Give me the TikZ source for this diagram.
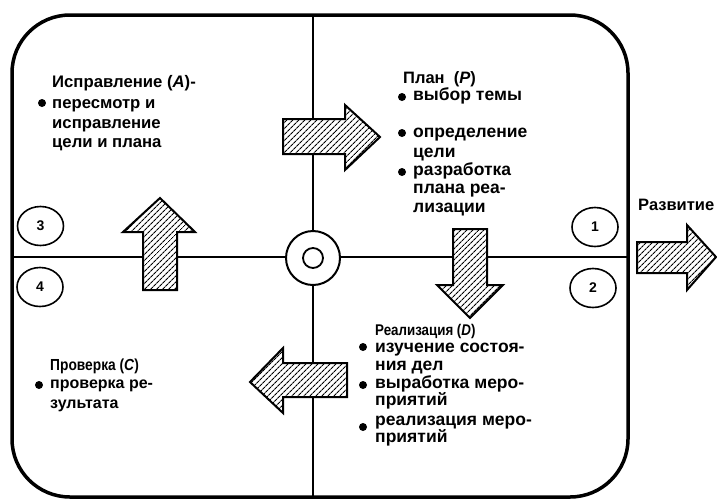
\documentclass[tikz,border=0pt]{standalone}
\usepackage{fontspec}
\setmainfont{Liberation Sans}
\newfontfamily\narrowfont[FakeStretch=0.86]{Liberation Sans}
\usetikzlibrary{shapes.geometric,patterns.meta}
\tikzset{
  txt/.style={anchor=base west,inner sep=0pt,font=\fontsize{#1}{#1}\selectfont\bfseries},
  txt/.default=16,
  head/.style={anchor=base west,inner sep=0pt,font=\narrowfont\fontsize{#1}{#1}\selectfont\bfseries},
  bul/.style={circle,fill=black,inner sep=0pt,minimum size=8pt},
  num/.style={ellipse,draw,line width=1.6pt,minimum width=46pt,minimum height=39pt,inner sep=0pt,font=\fontsize{14}{16}\selectfont\bfseries},
  bigarrow/.style={draw,line width=2pt,line join=miter,preaction={fill=white},pattern={Lines[angle=45,distance=4pt,line width=1.1pt]}},
  frame/.style={line width=3.5pt},
  cross/.style={line width=2.8pt}
}
\begin{document}
\begin{tikzpicture}[x=1pt,y=-1pt]
\useasboundingbox (0,0) rectangle (717,499);
% cross lines
\draw[cross] (313,15) -- (313,497);
\draw[cross] (12,257) -- (628,257);
% frame
\draw[frame,rounded corners=58pt] (12,15) rectangle (628,497);
% centre
\node[circle,draw,fill=white,line width=2pt,minimum size=54pt,inner sep=0pt] (c) at (313,258) {};
\node[circle,draw,line width=1.8pt,minimum size=20pt,inner sep=0pt] (ci) at (313,258) {};
% numbered ellipses
\node[num] (n1) at (595,227) {1};
\node[num] (n2) at (593,288) {2};
\node[num] (n3) at (40.5,226) {3};
\node[num] (n4) at (40,287) {4};
% big hatched arrows
\draw[bigarrow] (283,119) -- (345,119) -- (345,105) -- (380,137) -- (345,170) -- (345,154) -- (283,154) -- cycle;
\draw[bigarrow] (143,290) -- (143,232) -- (123,232) -- (160,198) -- (195,232) -- (177,232) -- (177,290) -- cycle;
\draw[bigarrow] (453,229) -- (487,229) -- (487,285) -- (503,285) -- (470,318) -- (437,285) -- (453,285) -- cycle;
\draw[bigarrow] (347,363) -- (283,363) -- (283,348) -- (250,382) -- (283,413) -- (283,397) -- (347,397) -- cycle;
\draw[bigarrow] (637,242) -- (687,242) -- (687,225) -- (716,257) -- (687,290) -- (687,273) -- (637,273) -- cycle;
% A block
\node[txt=16.7] (a1) at (52,87) {Исправление (\textit{A})-};
\node[txt=16.7] (a2) at (52,108) {пересмотр и};
\node[txt=16.7] (a3) at (52,128) {исправление};
\node[txt=16.7] (a4) at (52,147) {цели и плана};
\node[bul] (ba1) at (42,103) {};
% P block
\node[txt=16.5] (p1) at (403,83) {План\ \ (\textit{P})};
\node[txt=17.5] (p2) at (413,100) {выбор темы};
\node[txt=17.5] (p3) at (413,137) {определение};
\node[txt=17.5] (p4) at (413,157) {цели};
\node[txt=17.5] (p5) at (413,175) {разработка};
\node[txt=17.5] (p6) at (413,193) {плана реа-};
\node[txt=17.5] (p7) at (413,212) {лизации};
\node[bul] (bp1) at (402,97) {};
\node[bul] (bp2) at (402,133) {};
\node[bul] (bp3) at (402,172) {};
% C block
\node[head=16] (cc1) at (50,370) {Проверка (\textit{C})};
\node[txt=16] (cc2) at (50,388) {проверка ре-};
\node[txt=16] (cc3) at (50,408) {зультата};
\node[bul] (bc1) at (39,385) {};
% D block
\node[head=15.5] (d1) at (375,335) {Реализация (\textit{D})};
\node[txt=17.5] (d2) at (375,352) {изучение состоя-};
\node[txt=17.5] (d3) at (375,370) {ния дел};
\node[txt=17.5] (d4) at (375,388) {выработка меро-};
\node[txt=17.5] (d5) at (375,405) {приятий};
\node[txt=17.5] (d6) at (375,425) {реализация меро-};
\node[txt=17.5] (d7) at (375,442) {приятий};
\node[bul] (bd1) at (363,347) {};
\node[bul] (bd2) at (363,385) {};
\node[bul] (bd3) at (363,427) {};
% development
\node[txt=16.5] (dev) at (638,210) {Развитие};
\end{tikzpicture}
\end{document}
